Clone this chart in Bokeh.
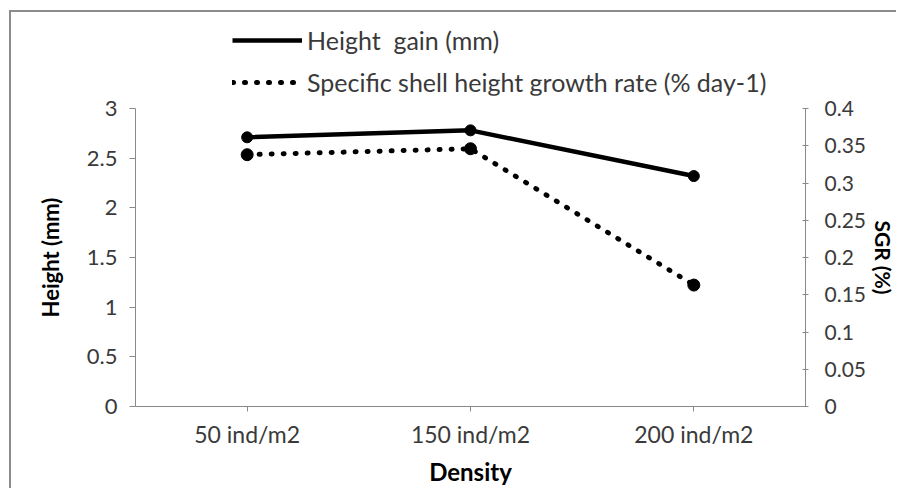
from bokeh.plotting import figure
from bokeh.models import Range1d, LinearAxis, FixedTicker, Legend, LegendItem, FactorRange
from bokeh.layouts import column
from bokeh.embed import file_html
from bokeh.resources import INLINE

categories = ["50 ind/m2", "150 ind/m2", "200 ind/m2"]
height_gain = [2.71, 2.78, 2.32]
sgr = [0.338, 0.346, 0.163]
left_ticks = [0, 0.5, 1, 1.5, 2, 2.5, 3]
right_ticks = [0, 0.05, 0.1, 0.15, 0.2, 0.25, 0.3, 0.35, 0.4]
series_labels = ["Height  gain (mm)", "Specific shell height growth rate (% day-1)"]

FONT = "Lato"
TICK_COLOR = "#3a3a3a"
AXIS_COLOR = "#8a8a8a"
BORDER = "2px solid #8c8c8c"

SOLID = dict(line_color="black", line_width=4.5)
DOTTED = dict(line_color="black", line_width=5, line_dash="1 11", line_cap="round")

# ---------------- legend strip (above the chart) ----------------
# The series are drawn here only to feed the legend; the y range keeps them out of view.
lg = figure(width=887, height=85, output_backend="svg", toolbar_location=None,
            x_range=FactorRange(*categories), y_range=Range1d(100, 101),
            min_border_left=0, min_border_right=0, min_border_top=0, min_border_bottom=0)
lg.margin = (10, 0, 0, 9)
lg.styles = {"border-top": BORDER, "border-left": BORDER}
lg.axis.visible = False
lg.grid.visible = False
lg.outline_line_color = None
lg.border_fill_color = "white"
d1 = lg.line(categories, height_gain, **SOLID)
d2 = lg.line(categories, sgr, **DOTTED)
legend = Legend(items=[LegendItem(label=series_labels[0], renderers=[d1]),
                       LegendItem(label=series_labels[1], renderers=[d2])],
                location=(97, 0), orientation="vertical",
                glyph_width=70, glyph_height=28, label_height=28, label_standoff=5,
                spacing=12, padding=0, margin=0,
                label_text_font=FONT, label_text_font_size="25px", label_text_color=TICK_COLOR,
                border_line_color=None, background_fill_alpha=0)
lg.add_layout(legend, "center")

# ---------------- main chart ----------------
p = figure(x_range=FactorRange(*categories), y_range=Range1d(0, 3),
           width=887, height=393, output_backend="svg", toolbar_location=None,
           min_border_left=124, min_border_right=88, min_border_top=13, min_border_bottom=80)
p.margin = (0, 0, 0, 9)
p.styles = {"border-left": BORDER}
p.extra_y_ranges = {"sgr": Range1d(0, 0.4)}

p.xgrid.visible = False
p.ygrid.visible = False
p.outline_line_color = None
p.background_fill_color = "white"
p.border_fill_color = "white"

# left axis
ly = p.yaxis[0]
ly.ticker = FixedTicker(ticks=left_ticks)
ly.major_label_overrides = {t: f"{t:g}" for t in left_ticks}
ly.axis_label = "Height (mm)"
ly.axis_label_text_font = FONT
ly.axis_label_text_font_style = "bold"
ly.axis_label_text_font_size = "22px"
ly.axis_label_text_color = "black"
ly.axis_label_standoff = 20
ly.major_label_text_font = FONT
ly.major_label_text_font_size = "22px"
ly.major_label_text_color = TICK_COLOR
ly.major_label_standoff = 12
ly.axis_line_color = AXIS_COLOR
ly.major_tick_line_color = AXIS_COLOR
ly.major_tick_out = 6
ly.major_tick_in = 0
ly.minor_tick_line_color = None

# right axis
ry = LinearAxis(y_range_name="sgr", ticker=FixedTicker(ticks=right_ticks))
ry.major_label_overrides = {t: f"{t:g}" for t in right_ticks}
ry.axis_label = "SGR (%)"
ry.axis_label_text_font = FONT
ry.axis_label_text_font_style = "bold"
ry.axis_label_text_font_size = "21px"
ry.axis_label_text_color = "black"
ry.axis_label_standoff = 2
ry.major_label_text_font = FONT
ry.major_label_text_font_size = "21px"
ry.major_label_text_color = TICK_COLOR
ry.major_label_standoff = 16
ry.axis_line_color = AXIS_COLOR
ry.major_tick_line_color = AXIS_COLOR
ry.major_tick_out = 3
ry.major_tick_in = 3
ry.minor_tick_line_color = None
p.add_layout(ry, "right")

# x axis
xa = p.xaxis[0]
xa.axis_label = "Density"
xa.axis_label_text_font = FONT
xa.axis_label_text_font_style = "bold"
xa.axis_label_text_font_size = "24px"
xa.axis_label_text_color = "black"
xa.axis_label_standoff = 6
xa.major_label_text_font = FONT
xa.major_label_text_font_size = "23px"
xa.major_label_text_color = TICK_COLOR
xa.major_label_standoff = 8
xa.axis_line_color = AXIS_COLOR
xa.major_tick_line_color = AXIS_COLOR
xa.major_tick_out = 5
xa.major_tick_in = 0

p.line(categories, height_gain, **SOLID)
p.scatter(categories, height_gain, size=11, color="black")
p.line(categories, sgr, y_range_name="sgr", **DOTTED)
p.scatter(categories, sgr, y_range_name="sgr", size=12, color="black")

layout = column(lg, p, spacing=0)
open("out.html", "w").write(file_html(layout, INLINE))
